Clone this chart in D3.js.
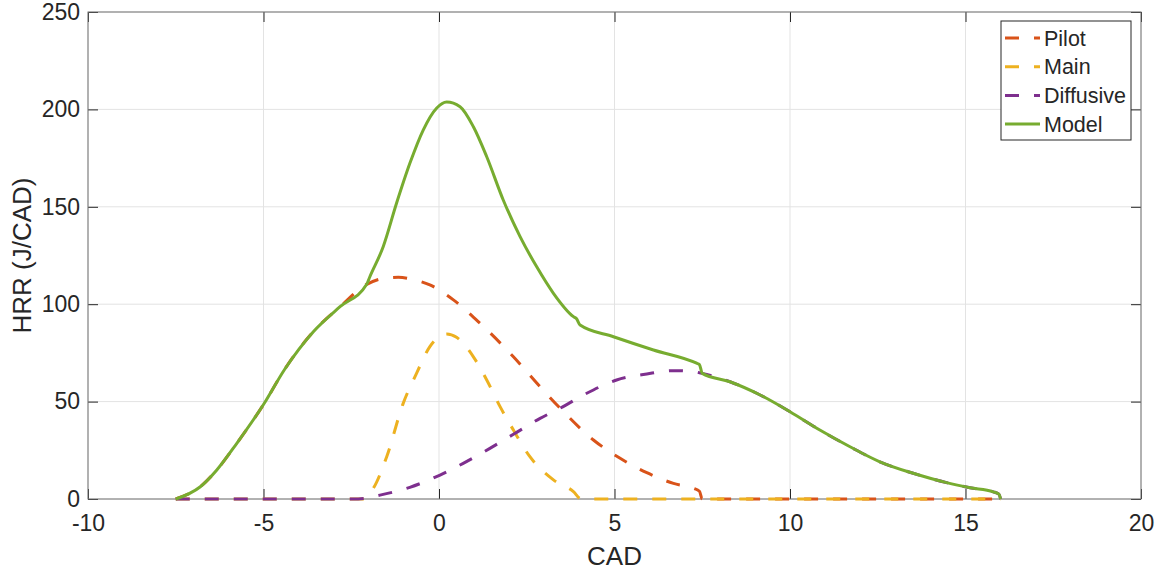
<!DOCTYPE html>
<meta charset="utf-8">
<script src="https://d3js.org/d3.v7.min.js"></script>
<style>
  body { margin: 0; background: #fff; }
  text { font-family: "Liberation Sans", Arial, sans-serif; fill: #262626; }
</style>
<div id="chart"></div>
<script>
// data: [CAD, HRR]
var pilot = [[-7.5,0],[-6.8,6.3],[-6.33,14.9],[-5.76,28.6],[-5,48.5],[-4.4,66.5],[-3.58,85.9],[-2.82,98.7],
  [-2.06,110.2],[-1.6,113.2],[-1.16,113.8],[-0.7,112.5],[-0.26,109.9],[0.41,102.2],[1.17,90.2],[2.12,73.0],
  [2.88,57.6],[3.45,46.6],[4.4,30.3],[5.16,20.9],[5.92,13.5],[6.68,8.0],[7.25,5.5],[7.42,4],[7.5,0],[16,0]];
var main = [[-7.5,0],[-2.15,0],[-1.87,5.5],[-1.49,21.7],[-1.02,49.1],[-0.64,64.5],[-0.26,78.2],[0.22,84.7],
  [0.5,83.0],[0.98,73.0],[1.36,61.1],[1.74,47.4],[2.12,35.4],[2.59,21.7],[3.26,9.8],[3.83,3.8],[4.05,0],[16,0]];
var diffusive = [[-7.5,0],[-2.3,0],[-1.68,2.0],[-0.83,6.0],[0.03,12.3],[0.69,18.3],[1.45,26.0],[2.12,33.2],
  [2.88,41.4],[3.45,46.6],[4.21,54.3],[5.06,61.1],[5.92,64.2],[6.68,65.9],[7.2,65.5],[7.5,64.5],[8.29,60.2],
  [9.15,53.4],[10,44.8],[10.85,35.4],[11.71,26.8],[12.56,19.1],[13.51,13.2],[14.46,8.4],[15.13,5.8],
  [15.79,3.7],[15.95,2.5],[16,0]];
var model = [[-7.5,0],[-6.8,6.3],[-6.33,14.9],[-5.76,28.6],[-5,48.5],[-4.4,66.5],[-3.58,85.9],[-2.82,98.7],
  [-2.06,110.2],[-1.97,114.1],[-1.59,129.5],[-1.21,151.8],[-0.83,172.3],[-0.45,189.4],[-0.07,200.6],
  [0.22,203.8],[0.6,201.4],[0.98,191.1],[1.36,175.7],[1.83,153.5],[2.31,134.7],[2.78,119.3],[3.26,105.6],
  [3.83,93.6],[3.92,92.5],[4.02,89.3],[4.97,83.3],[6.11,76.5],[7.34,69.7],[7.42,69],[7.5,64.5],[8.29,60.2],
  [9.15,53.4],[10,44.8],[10.85,35.4],[11.71,26.8],[12.56,19.1],[13.51,13.2],[14.46,8.4],[15.13,5.8],
  [15.79,3.7],[15.95,2.5],[16,0]];

var xTicks = [-10, -5, 0, 5, 10, 15, 20];
var yTicks = [0, 50, 100, 150, 200, 250];
var seriesNames = ["Pilot", "Main", "Diffusive", "Model"];
var seriesData = [pilot, main, diffusive, model];
var colors = ["#D95319", "#EDB120", "#7E2F8E", "#77AC30"];

var margin = {top: 12, right: 25, bottom: 72, left: 88},
    width = 1166 - margin.left - margin.right,
    height = 571 - margin.top - margin.bottom;

var svg = d3.select("#chart").append("svg")
    .attr("width", 1166)
    .attr("height", 571)
  .append("g")
    .attr("transform", "translate(" + margin.left + "," + margin.top + ")");

var x = d3.scaleLinear().domain([-10, 20]).range([0, width]);
var y = d3.scaleLinear().domain([0, 250]).range([height, 0]);

// grid
svg.append("g").selectAll("line.gx").data(xTicks).enter().append("line")
    .attr("x1", d => x(d)).attr("x2", d => x(d)).attr("y1", 0).attr("y2", height)
    .attr("stroke", "#e3e3e3");
svg.append("g").selectAll("line.gy").data(yTicks).enter().append("line")
    .attr("x1", 0).attr("x2", width).attr("y1", d => y(d)).attr("y2", d => y(d))
    .attr("stroke", "#e3e3e3");

// axes, ticks pointing inward
function styleAxis(g) {
  g.select(".domain").remove();
  g.selectAll(".tick line").attr("stroke", "#262626");
  g.selectAll(".tick text").style("font-size", "23px").attr("fill", "#262626");
}
svg.append("g").attr("transform", "translate(0," + height + ")")
  .call(d3.axisBottom(x).tickValues(xTicks).tickSize(-10).tickPadding(16).tickFormat(d => String(d)))
  .call(styleAxis);
svg.append("g")
  .call(d3.axisTop(x).tickValues(xTicks).tickSize(-10).tickFormat(""))
  .call(styleAxis);
svg.append("g")
  .call(d3.axisLeft(y).tickValues(yTicks).tickSize(-10).tickPadding(8).tickFormat(d => String(d)))
  .call(styleAxis);
svg.append("g").attr("transform", "translate(" + width + ",0)")
  .call(d3.axisRight(y).tickValues(yTicks).tickSize(-10).tickFormat(""))
  .call(styleAxis);

svg.append("rect").attr("width", width).attr("height", height)
  .attr("fill", "none").attr("stroke", "#737373").attr("stroke-width", 1);

// lines
var line = d3.line().x(d => x(d[0])).y(d => y(d[1])).curve(d3.curveMonotoneX);
seriesData.forEach(function(data, i) {
  svg.append("path")
    .datum(data)
    .attr("d", line)
    .attr("fill", "none")
    .attr("stroke", colors[i])
    .attr("stroke-width", 3)
    .attr("stroke-dasharray", i < 3 ? "14,15" : null);
});

// axis labels
svg.append("text")
  .attr("x", width / 2).attr("y", height + 66)
  .attr("text-anchor", "middle")
  .style("font-size", "26px")
  .text("CAD");
svg.append("text")
  .attr("transform", "translate(" + (-57) + "," + (height / 2) + ")rotate(-90)")
  .attr("text-anchor", "middle")
  .style("font-size", "26px")
  .text("HRR (J/CAD)");

// legend
var lx = x(20) - 140, ly = 9;
var legend = svg.append("g").attr("transform", "translate(" + lx + "," + ly + ")");
legend.append("rect").attr("width", 130).attr("height", 119)
  .attr("fill", "#fff").attr("stroke", "#262626").attr("stroke-width", 1);
seriesNames.forEach(function(name, i) {
  var cy = 17 + i * 28.7;
  legend.append("line")
    .attr("x1", 4).attr("x2", 39).attr("y1", cy).attr("y2", cy)
    .attr("stroke", colors[i]).attr("stroke-width", 3)
    .attr("stroke-dasharray", i < 3 ? "14,15" : null);
  legend.append("text")
    .attr("x", 43).attr("y", cy).attr("dy", "0.35em")
    .style("font-size", "21.5px")
    .text(name);
});
</script>
